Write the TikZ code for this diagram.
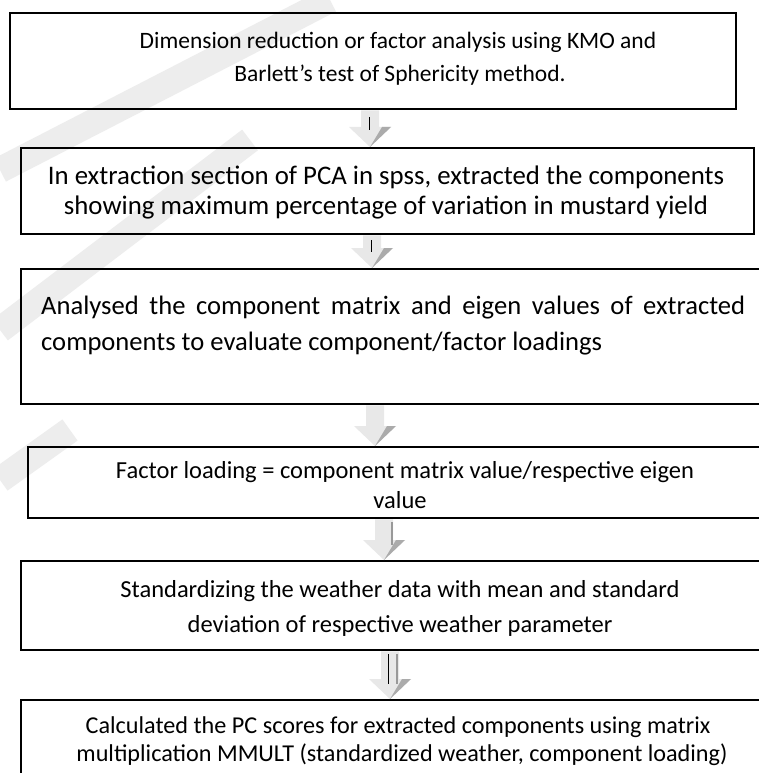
\documentclass[tikz,border=0pt]{standalone}
\usepackage{fontspec}
\setmainfont{Carlito}
\usetikzlibrary{calc}
\tikzset{
  box/.style={draw=black, line width=2.4pt, rectangle, inner sep=0pt, anchor=north west},
  ln/.style={inner sep=0pt, anchor=base},
  lnl/.style={inner sep=0pt, anchor=base west},
  arrlight/.style={fill=black!9, draw=none},
  arrdark/.style={fill=black!33, draw=none},
  wmark/.style={draw=black!7, line width=26pt, line cap=butt}
}
\newcommand\blockarr[3]{%
  \fill[arrlight] let \p1=(#2.south), \p2=(#3.north) in
    (#1-9,\y1) -- (#1+9,\y1) -- (#1+9,\y2+20) -- (#1+21,\y2+20) -- (#1,\y2) -- (#1-21,\y2+20) -- (#1-9,\y2+20) -- cycle;
  \fill[arrdark] let \p1=(#2.south), \p2=(#3.north) in
    (#1,\y2) -- (#1+21,\y2+20) -- (#1+12,\y2+20) -- cycle;
}
\begin{document}
\begin{tikzpicture}[x=1pt,y=1pt]
\useasboundingbox (0,0) rectangle (758,-773);
\fill[white] (0,0) rectangle (758,-773);
% watermark bands
\draw[wmark] (0,-170) -- (330,0);
\draw[wmark] (0,-330) -- (250,-140);
\draw[wmark] (0,-480) -- (70,-430);
% boxes
\node[box, minimum width=726pt, minimum height=96pt] (b1) at (9,-12) {};
\node[box, minimum width=733pt, minimum height=86pt] (b2) at (20,-147) {};
\node[box, minimum width=760pt, minimum height=135pt] (b3) at (20,-268) {};
\node[box, minimum width=760pt, minimum height=71pt] (b4) at (27,-446) {};
\node[box, minimum width=760pt, minimum height=89pt] (b5) at (20,-560) {};
\node[box, minimum width=760pt, minimum height=100pt] (b6) at (20,-699) {};
% texts
\begin{scope}[font=\fontsize{23.5}{32}\selectfont]
\node[ln] (t1a) at (398,-49) {Dimension reduction or factor analysis using KMO and};
\node[ln] (t1b) at (400,-82) {Barlett’s test of Sphericity method.};
\end{scope}
\begin{scope}[font=\fontsize{26.8}{32}\selectfont]
\node[ln] (t2a) at (386,-184) {In extraction section of PCA in spss, extracted the components};
\node[ln] (t2b) at (386,-214) {showing maximum percentage of variation in mustard yield};
\end{scope}
\begin{scope}[font=\fontsize{26.6}{36}\selectfont]
\node[lnl] (t3a) at (41,-314) {\makebox[704pt][s]{Analysed the component matrix and eigen values of extracted}};
\node[lnl] (t3b) at (41,-350) {components to evaluate component/factor loadings};
\end{scope}
\begin{scope}[font=\fontsize{24.5}{30}\selectfont]
\node[ln] (t4a) at (405,-478) {Factor loading = component matrix value/respective eigen};
\node[ln] (t4b) at (400,-508) {value};
\end{scope}
\begin{scope}[font=\fontsize{24.5}{35}\selectfont]
\node[ln] (t5a) at (400,-597) {Standardizing the weather data with mean and standard};
\node[ln] (t5b) at (400,-632) {deviation of respective weather parameter};
\end{scope}
\begin{scope}[font=\fontsize{24.2}{28}\selectfont]
\node[ln] (t6a) at (398,-733) {Calculated the PC scores for extracted components using matrix};
\node[ln] (t6b) at (402,-761) {multiplication MMULT (standardized weather, component loading)};
\end{scope}
% arrows
\blockarr{370}{b1}{b2}
\draw[black, line width=1pt] (369,-117) -- (369,-130);
\blockarr{372}{b2}{b3}
\draw[black, line width=1pt] (371,-240) -- (371,-252);
\blockarr{375}{b3}{b4}
\blockarr{384}{b4}{b5}
\draw[black!40, line width=1.5pt] (392,-522) -- (392,-545);
\blockarr{390}{b5}{b6}
\draw[black, line width=1pt] (388,-654) -- (388,-684);
\draw[black!40, line width=1.5pt] (397,-654) -- (397,-684);
\end{tikzpicture}
\end{document}
